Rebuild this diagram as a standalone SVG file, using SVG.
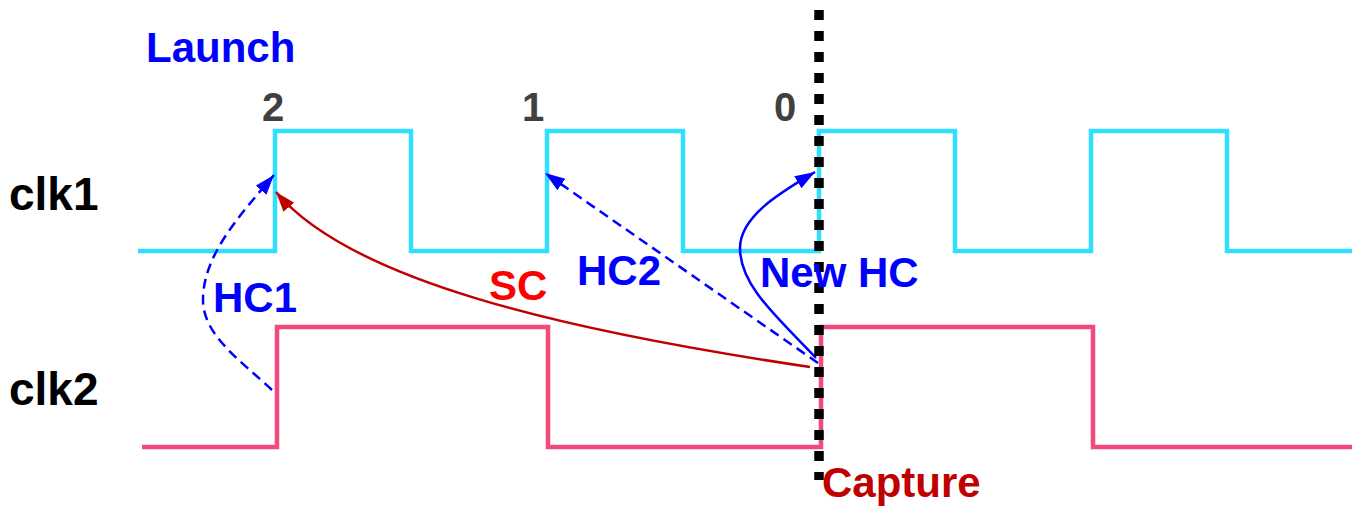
<svg xmlns="http://www.w3.org/2000/svg" width="1352" height="508" viewBox="0 0 1352 508">
<style>
text{font-family:"Liberation Sans",Arial,sans-serif;font-weight:bold}
.wave{fill:none;stroke-width:4.5;stroke-linejoin:miter}
.c1{stroke:#33DDFF}
.c2{stroke:#F24A7A}
.num{font-size:40px;fill:#404040;text-anchor:middle}
.lbl{font-size:42px}
.blue{fill:#0000FF}
.arr{fill:none;stroke-width:2.5}
.dash{stroke-dasharray:10 6}
</style>
<defs>
<marker id="ahB" markerUnits="userSpaceOnUse" markerWidth="22" markerHeight="16" refX="20" refY="7" orient="auto"><path d="M0,0 L20,7 L0,14 z" fill="#0000FF" stroke="none"/></marker>
<marker id="ahR" markerUnits="userSpaceOnUse" markerWidth="22" markerHeight="16" refX="20" refY="7" orient="auto"><path d="M0,0 L20,7 L0,14 z" fill="#C00000" stroke="none"/></marker>
</defs>
<g id="clk1-wave"><path class="wave c1" d="M138,251 H275 V131 H411 V251 H547 V131 H683 V251 H819 V131 H955 V251 H1091 V131 H1227 V251 H1352"/></g>
<g id="clk2-wave"><path class="wave c2" d="M142,447 H277 V327 H548 V447 H821 V327 H1093 V447 H1352"/></g>
<g id="connectors">
<path id="hc1" class="arr dash" stroke="#0000FF" marker-end="url(#ahB)" d="M272,390 C240,360 203,335 203,300 C203,255 240,215 274,175"/>
<path id="sc" class="arr" stroke="#C00000" marker-end="url(#ahR)" d="M810,367 C560,330 350,280 276,192"/>
<path id="hc2" class="arr dash" stroke="#0000FF" marker-end="url(#ahB)" d="M818,363 L545,173"/>
<path id="newhc" class="arr" stroke="#0000FF" marker-end="url(#ahB)" d="M816,358 C775,315 740,285 740,248 C740,215 785,190 815,172"/>
</g>
<g id="capture-line"><line x1="819" y1="10" x2="819" y2="480" stroke="#000" stroke-width="9.5" stroke-dasharray="10 11"/></g>
<g id="launch"><text class="lbl blue" x="146" y="62">Launch</text></g>
<g id="n2"><text class="num" x="273" y="121">2</text></g>
<g id="n1"><text class="num" x="533" y="121">1</text></g>
<g id="n0"><text class="num" x="785" y="121">0</text></g>
<g id="clk1"><text x="9" y="210" font-size="46" fill="#000">clk1</text></g>
<g id="clk2"><text x="9" y="405" font-size="46" fill="#000">clk2</text></g>
<g id="hc1-label"><text class="lbl blue" x="213" y="312">HC1</text></g>
<g id="sc-label"><text class="lbl" x="489" y="300" fill="#FF0000">SC</text></g>
<g id="hc2-label"><text class="lbl blue" x="577" y="285">HC2</text></g>
<g id="newhc-label"><text class="lbl blue" x="760" y="287">New HC</text></g>
<g id="capture"><text class="lbl" x="822" y="497" fill="#C00000">Capture</text></g>
</svg>
